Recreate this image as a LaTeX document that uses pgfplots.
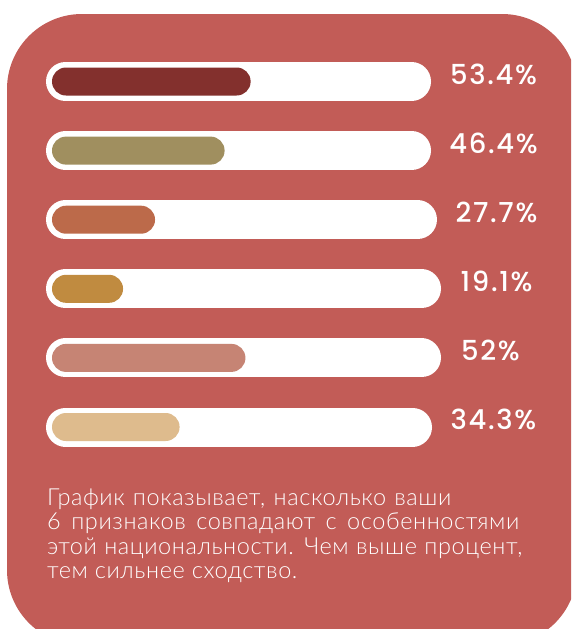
\documentclass[border=0pt]{standalone}
\usepackage{fontspec}
\setmainfont{Lato}
\newfontfamily\lightfont{Lato Light}[LetterSpace=2.5]
\newfontfamily\numfont{Poppins Medium}[LetterSpace=6]
\usepackage{pgfplots}
\pgfplotsset{compat=1.18}
\definecolor{bgred}{HTML}{C25C57}
\definecolor{cA}{HTML}{83302D}
\definecolor{cB}{HTML}{A08F5F}
\definecolor{cC}{HTML}{BC6A4A}
\definecolor{cD}{HTML}{C08B40}
\definecolor{cE}{HTML}{C68474}
\definecolor{cF}{HTML}{DEBB8D}
\begin{document}
\begin{tikzpicture}
\useasboundingbox (0,0) rectangle (571pt,-629pt);
\clip (0,0) rectangle (571pt,-629pt);
\fill[bgred, rounded corners=75pt] (7pt,-14pt) rectangle (577pt,-645pt);
\begin{axis}[
  at={(0pt,0pt)}, anchor=north west,
  hide axis, clip=false,
  x=3.72pt, y=69.1pt, y dir=reverse,
  xmin=-13.978, xmax=139.52,
  ymin=-0.1794, ymax=8.923,
]
% white tracks (0..100 scale)
\addplot[white, line width=39pt, line cap=round] coordinates {(3.63,1) (96.64,1)};
\addplot[white, line width=39pt, line cap=round] coordinates {(3.63,2) (96.64,2)};
\addplot[white, line width=39pt, line cap=round] coordinates {(3.63,3) (98.25,3)};
\addplot[white, line width=39pt, line cap=round] coordinates {(3.63,4) (99.33,4)};
\addplot[white, line width=39pt, line cap=round] coordinates {(3.63,5) (99.33,5)};
\addplot[white, line width=39pt, line cap=round] coordinates {(3.63,6) (96.91,6)};
% value bars
\addplot[xbar, bar width=28pt, bar shift=0pt, fill=cA, draw=none, rounded corners=14pt] coordinates {(53.4,1)};
\addplot[xbar, bar width=28pt, bar shift=0pt, fill=cB, draw=none, rounded corners=14pt] coordinates {(46.4,2)};
\addplot[xbar, bar width=28pt, bar shift=0pt, fill=cC, draw=none, rounded corners=14pt] coordinates {(27.7,3)};
\addplot[xbar, bar width=28pt, bar shift=0pt, fill=cD, draw=none, rounded corners=14pt] coordinates {(19.1,4)};
\addplot[xbar, bar width=28pt, bar shift=0pt, fill=cE, draw=none, rounded corners=14pt] coordinates {(52,5)};
\addplot[xbar, bar width=28pt, bar shift=0pt, fill=cF, draw=none, rounded corners=14pt] coordinates {(34.3,6)};
% value labels
\addplot[draw=none, mark=none, nodes near coords={\pgfplotspointmeta\%},
  point meta=explicit symbolic,
  every node near coord/.style={anchor=center, text=white, inner sep=0pt,
    font=\numfont\fontsize{27.5}{27.5}\selectfont, yshift=7.5pt}]
  table[meta=label] {
x y label
118.68 1 53.4
118.68 2 46.4
119.49 3 27.7
119.49 4 19.1
117.88 5 52
118.68 6 34.3
};
\end{axis}
\begin{scope}[every node/.style={anchor=base west, text=white, inner sep=0pt,
    font=\lightfont\fontsize{23.5}{24}\selectfont}]
\node at (47pt,-505pt) {\makebox[404pt][s]{График показывает, насколько ваши}};
\node at (47pt,-529.5pt) {\makebox[472pt][s]{6 признаков совпадают с особенностями}};
\node at (47pt,-554pt) {\makebox[475pt][s]{этой национальности. Чем выше процент,}};
\node at (47pt,-578.5pt) {тем сильнее сходство.};
\end{scope}
\end{tikzpicture}
\end{document}
